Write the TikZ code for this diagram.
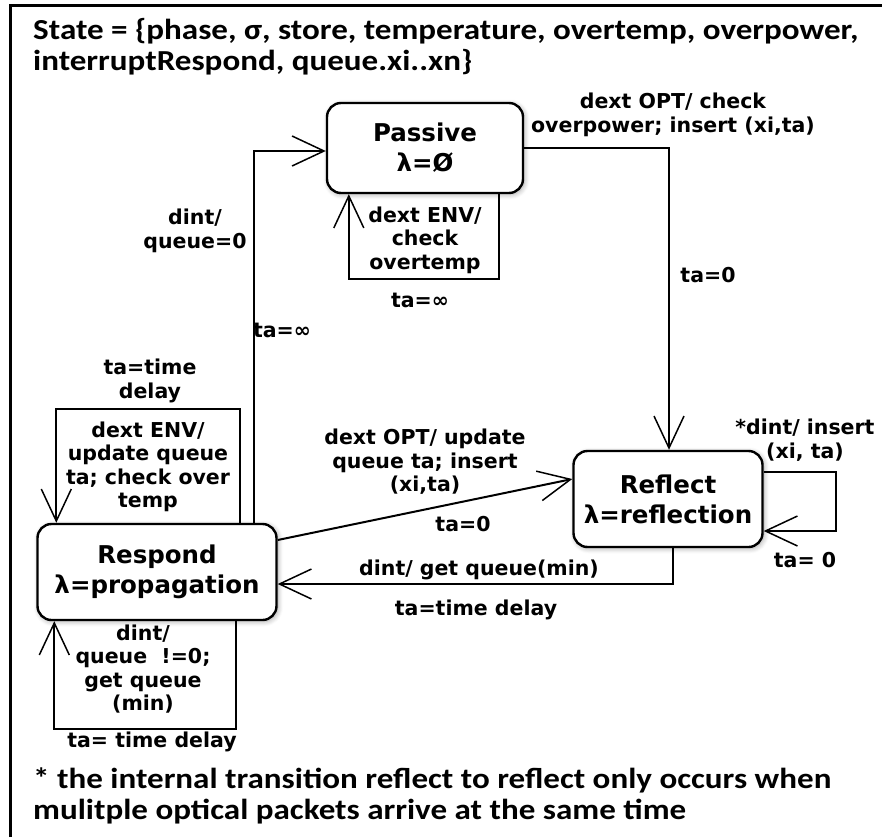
\documentclass[tikz,border=0pt]{standalone}
\usepackage{fontspec}
\setmainfont{DejaVu Sans}
\newfontfamily\hdrfont{Carlito}[FakeStretch=1.14]
\usetikzlibrary{arrows.meta,positioning,calc,shadows.blur}
\newcommand{\statefont}{\fontsize{24.5}{30}\selectfont\bfseries}
\newcommand{\tlabelfont}{\fontsize{20.5}{23.5}\selectfont\bfseries}
\tikzset{
  statebox/.style={draw, line width=2.4pt, rounded corners=14pt, fill=white,
    align=center, font=\statefont,
    blur shadow={shadow blur steps=6, shadow xshift=1.5pt, shadow yshift=-1.5pt,
      shadow opacity=35, shadow blur radius=5pt}},
  trans/.style={-{Straight Barb[length=32pt,width=30pt,line width=1.5pt]}, line width=2pt},
  tlabel/.style={align=center, font=\tlabelfont, inner sep=0pt},
  hdr/.style={anchor=west, inner sep=0pt, font=\hdrfont\fontsize{29}{31}\selectfont\bfseries},
}

\begin{document}
\begin{tikzpicture}[x=1pt, y=-1pt]
  \useasboundingbox (0,0) rectangle (882,837);
  % frame
  \draw[line width=3pt] (10,837) -- (10,6) -- (882,6);

  % Header and footnote
  \node[hdr] (state1) at (33,31) {State = \{phase, σ, store, temperature, overtemp, overpower,};
  \node[hdr] (state2) at (33,62) {interruptRespond, queue.xi..xn\}};
  \node[hdr] (note1) at (33,780) {* the internal transition reflect to reflect only occurs when};
  \node[hdr] (note2) at (33,812) {mulitple optical packets arrive at the same time};

  % States
  \node[statebox, minimum width=196pt, minimum height=90pt] (passive) at (425,148) {Passive\\λ=Ø};
  \node[statebox, minimum width=189pt, minimum height=96pt] (reflect) at (668,499) {Reflect\\λ=reflection};
  \node[statebox, minimum width=239pt, minimum height=96pt] (respond) at (157,572) {Respond\\λ=propagation};

  % Transitions
  \draw[trans] (passive.east) -| ([xshift=1pt]reflect.north);
  \draw[trans] ([xshift=-25pt]passive.south east) -- ++(0,85) -| ([xshift=23pt]passive.south west);
  \draw[trans] ([xshift=-24pt]respond.north east) |- ([yshift=-3pt]passive.west);
  \draw[trans] ([xshift=-38pt]respond.north east) -- ++(0,-114) -| ([xshift=20pt]respond.north west);
  \draw[trans] ([xshift=-42pt]respond.south east) -- ++(0,108) -| ([xshift=18pt]respond.south west);
  \draw[trans] ([yshift=32pt]respond.east) -- ([yshift=20pt]reflect.west);
  \draw[trans] ([xshift=5pt]reflect.south) |- ([yshift=-12pt]respond.east);
  \draw[trans] ([yshift=27pt]reflect.east) -- ++(72,0) |- ([yshift=-32pt]reflect.east);

  % Transition labels
  \node[tlabel] (penv) at (425,240) {dext ENV/\\check\\overtemp};
  \node[tlabel] (penvta) at (420,300) {ta=∞};
  \node[tlabel] (popt) at (673,115) {dext OPT/ check\\overpower; insert (xi,ta)};
  \node[tlabel] (poptta) at (708,275) {ta=0};
  \node[tlabel] (rdint) at (195,231) {dint/\\queue=0};
  \node[tlabel] (rdintta) at (282,330) {ta=∞};
  \node[tlabel] (renvta) at (150,381) {ta=time\\delay};
  \node[tlabel] (renv) at (148,467) {dext ENV/\\update queue\\ta; check over\\temp};
  \node[tlabel] (rloop) at (143,669) {dint/\\queue\ \ !=0;\\get queue\\(min)};
  \node[tlabel] (rloopta) at (152,742) {ta= time delay};
  \node[tlabel] (ropt) at (425,462) {dext OPT/ update\\queue ta; insert\\(xi,ta)};
  \node[tlabel] (roptta) at (463,524) {ta=0};
  \node[tlabel] (fdint) at (479,570) {dint/ get queue(min)};
  \node[tlabel] (fdintta) at (476,610) {ta=time delay};
  \node[tlabel] (floop) at (805,440) {*dint/ insert\\(xi, ta)};
  \node[tlabel] (floopta) at (805,560) {ta= 0};
\end{tikzpicture}
\end{document}
